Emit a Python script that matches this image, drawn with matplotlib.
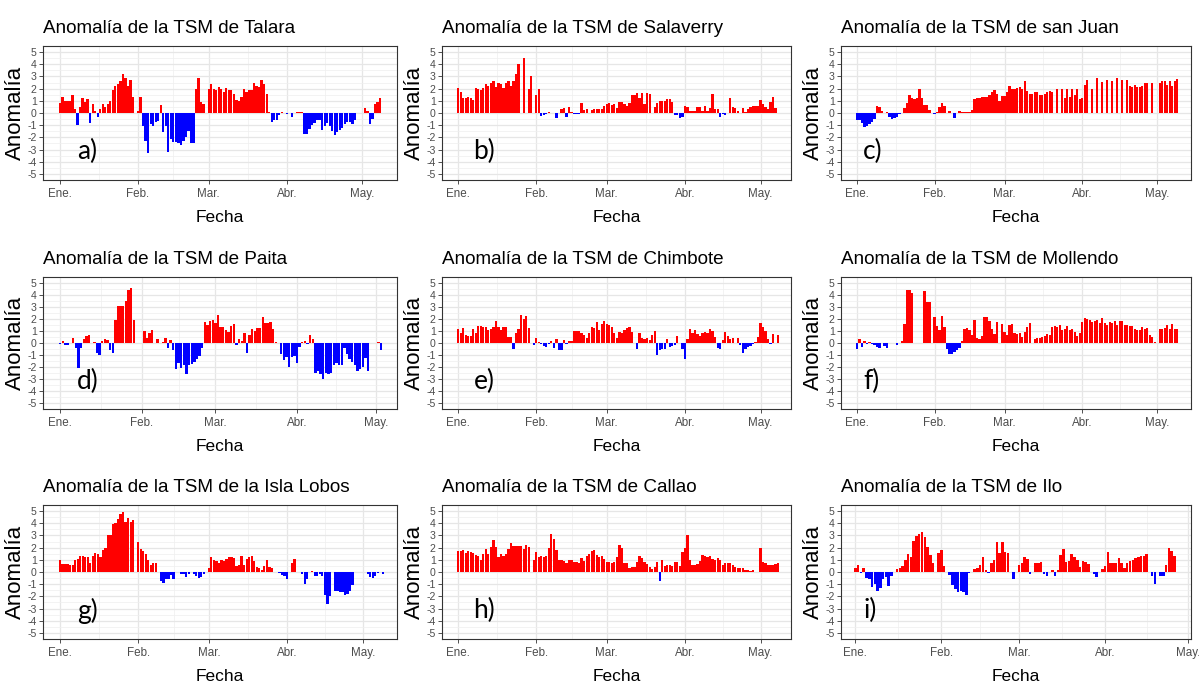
import numpy as np
import matplotlib
matplotlib.use("Agg")
import matplotlib.pyplot as plt
from matplotlib.ticker import MultipleLocator, FixedLocator
from matplotlib import font_manager

nan = float("nan")

# ---------------- data (daily anomalies, day 0 = 1 Jan) ----------------
talara = [0.8, 1.35, 1.0, 1.0, 1.0, 1.5, 0.3, -1.0, 0.5, 1.25, 0.9, 1.15, -0.85, 0.7, 0.2, -0.3,
          0.3, 0.75, 0.5, 0.75, 1.0, 1.85, 2.25, 2.4, 2.65, 3.2, 2.9, 2.25, 2.7, 1.35, nan, 0.2, 1.3,
          -1.1, -2.3, -3.3, -0.9, -1.05, -0.75, -0.65, 0.65,
          -1.6, -1.05, -3.2, -2.15, -2.4, -2.4, -2.5, -2.6, -2.3, -1.95, -1.5, -2.5, -2.5,
          2.0, 2.9, 0.9, 0.7, nan,
          2.0, 2.4, 2.0, 1.85, 2.15, 2.0, 1.7, 2.05, 1.9, 1.85, 1.6, 1.05, 1.0, 1.3, 2.0, 1.7, 1.85,
          1.9, 2.45, 2.25, 2.15, 2.7, 2.4, 1.55, 0.05, -0.7, -0.55, -0.55, -0.2,
          0.1, nan, -0.1, nan, -0.3, nan, 0.05, 0.1, 0.1,
          -1.7, -1.7, -1.3, -1.0, -0.8, -0.6, -0.55, -1.4, -1.05, -0.8, -1.05, -1.5, -1.8, -1.6, -1.4,
          -1.2, -0.9, -0.7, -0.75, -0.9, -0.55, nan, nan, nan,
          0.4, 0.2, -0.9, -0.5, 0.7, 0.9, 1.25]

salaverry = [2.05, 1.7, 1.2, 1.2, 1.3, 1.2, 1.1, 2.05, 2.0, 1.85, 2.05, 2.35, 2.25, 2.45, 2.6, 2.1,
             2.5, 2.4, 2.05, 2.5, 2.6, 2.25, 2.65, 3.2, 4.05,
             nan, 4.5, nan, 2.0, 3.0, nan, 1.5, 2.0,
             -0.25, -0.2, -0.1, 0.05, nan, nan, -0.45, nan,
             0.35, 0.4, -0.35, 0.5, 0.1, -0.05, -0.1, -0.05,
             0.8, 0.25, 0.3, nan, 0.25, 0.3, 0.35, 0.35, 0.35, 0.55,
             0.75, 0.8, 0.65, 0.75, 0.45, 0.9, 0.9, 0.7, 0.55, 0.85,
             1.45, 1.5, 1.65, 1.2, 1.65, 0.75, 1.65, 1.6, nan, 0.5,
             0.8, 1.0, 1.0, 1.0, 1.15, 1.15, 0.9, -0.2, -0.2, -0.45,
             -0.3, 0.55, 0.5, 0.15, 0.15, 0.15, 0.5, 0.5, 0.2, 0.6,
             0.2, 0.45, 1.55, 0.3, 0.3, -0.3, -0.1, -0.15, nan, 1.2,
             0.5, 0.45, 0.2, nan, 0.4, 0.05, 0.3, 0.5, 0.55, 0.55,
             0.6, 1.1, 0.75, 0.5, 0.3, 0.9, 1.35, 0.45]

san_juan = [-0.55, -0.6, -0.85, -1.15, -1.05, -0.9, -0.7, -0.5, 0.6, 0.5, 0.2,
            nan, 0.05, -0.3, -0.5, -0.45, -0.3, -0.1, nan,
            0.4, 0.8, 1.5, 1.25, 1.15, 1.2, 1.95, 1.25, 0.65, 0.65, 0.25,
            nan, -0.1, 0.1, 0.5, 0.8, 0.55, nan, 0.2, nan, -0.4, nan, 0.2, 0.1, 0.05, 0.05, 0.05, 0.25,
            1.15, 1.2, 1.25, 1.3, 1.3, 1.35, 1.45, 1.7, 1.9, 1.55, 1.0, 1.4, 1.4,
            1.75, 2.2, 2.0, 1.95, 2.05, 2.15, 2.0, 2.65, 1.8, 1.55, 1.6, 1.75, 1.75, 1.45, 1.5, 1.6,
            1.7, 1.8, 1.75,
            nan, 2.0, nan, 1.95, 1.25, 1.95, 1.3, 1.95, 1.45, 1.95, 1.15, 1.25,
            2.3, 2.7, nan, 2.0, nan, 2.9, nan, 2.55, nan, 2.7, nan, 2.6, nan, 2.9, nan, 2.7, nan, 2.7,
            2.2, 2.1, 2.3, 2.15, 2.15, 2.2, 2.45, 2.5,
            nan, 2.45, nan, nan,
            2.5, 2.65, 2.65, 2.3, 2.65, 2.2, 2.65, 2.75]

paita = [-0.1, 0.15, -0.15, -0.15, nan, 0.4, -0.4, -2.1, -0.45, 0.3, 0.55, 0.7, nan, 0.05, -0.8,
         -1.0, 0.15, 0.35, 0.25, -0.6, -0.8,
         1.9, 3.05, 3.1, 3.1, 3.5, 4.4, 4.6, 1.9,
         nan, nan, nan, 1.0, 0.4, 0.85, 1.1, nan, 0.35, nan, 0.1, 0.45, -0.4, 0.25,
         -0.6, -2.2, -1.7, -2.1, -1.8, -2.55, -1.85, -1.75, -1.6, -1.35, -1.05, -0.4,
         1.75, 1.5, 1.85, 1.95, 1.7, 2.3, 1.3, 1.35, 1.1, 0.9, 1.4, 1.55,
         -0.2, 0.35, 0.2, 0.85, -0.85, 0.65, 1.15, 1.0, 1.25, 1.25, 2.2, 1.7, 1.7, 1.75, 1.2, 0.05,
         nan,
         -0.95, -1.4, -1.2, -2.0, -1.2, -1.05, -1.65, -0.3,
         0.1, 0.15, -0.1, 0.65, 0.35,
         -2.5, -2.3, -2.6, -3.0, -2.5, -2.6, -2.5, -1.8, -1.7, -1.8, -1.8, -0.4, -0.9, -1.3, -1.6,
         -1.8, -2.3, -2.2, -2.0, -1.25, -2.35,
         nan, nan, nan, 0.05, -0.6]

chimbote = [1.15, 0.8, 1.25, 0.7, 0.55, 0.6, 1.2, 0.8, 1.4, 1.45, 1.3, 1.3, 1.05, 1.2,
            1.3, 1.8, 1.3, 1.1, 1.3, 1.3, 0.5, 0.5, -0.5, 0.8, 1.2, 2.3, 2.0, 2.25, 1.25,
            nan, -0.2, 0.4, 0.05, -0.1, -0.25, -0.35, -0.1, 0.15, -0.4,
            0.3, -0.6, -0.55, 0.25, -0.1, 0.2, 0.2, 1.0, 1.0, 1.0, 0.85, 0.7,
            0.4, 0.8, 1.3, 1.25, 1.75, 1.1, 1.6, 1.8, 1.6, 1.5, 1.3, 0.85,
            0.4, 0.9, 0.85, 1.05, 1.25, 1.35, 0.9, nan, -0.5, 0.85, 0.4, 0.3, 0.45, 0.25, 0.65, 1.0,
            -1.0, -0.6, -0.5, -0.5, 0.35, -0.3, -0.25, -0.2, 0.55, nan, -0.5, -1.3, 0.3, 1.2, 0.8,
            1.05, 0.75, 0.6, 0.85, 0.9, 0.85, 1.15, 1.0, 0.5, -0.4, -0.5,
            0.25, 0.95, 0.6, 0.35, 0.4, nan, 0.45, -0.2, -0.8, -0.5, -0.35, -0.25, -0.1, 0.1, 0.5,
            1.7, 1.3, 1.0, 0.35, -0.1, 0.75, nan, 0.7]

mollendo = [-0.5, 0.3, -0.3, 0.15, -0.1, 0.05, -0.1, -0.15, -0.35, -0.4,
            nan, -0.25, -0.4, nan, nan, nan, -0.15, nan,
            0.15, 1.55, 4.4, 4.4, 4.2, nan, nan, nan, nan, 4.3, 3.4, 3.45, nan,
            2.15, 1.45, 1.1, 2.25, 1.35,
            -0.5, -0.9, -0.9, -0.75, -0.6, -0.45,
            0.15, 1.2, 1.25, 1.05, 0.65, 1.9, 0.45, 0.3, 0.6, 2.2, 2.15, 1.85, 1.2, 0.75,
            1.75, nan,
            1.6, 0.9, 0.7, 1.5, 1.55, 0.8, 0.75, 0.85, 0.5, 0.9, 1.3, 1.7, nan,
            0.35, 0.4, 0.45, 0.5, 0.55, 0.75, 0.7,
            1.35, 1.45, 1.35, 1.5, 1.05, 1.2, 1.45, 1.1, 1.2, 0.95, 0.55, 0.8,
            1.75, 2.1, 2.0, 1.9, 1.75, 1.85, 1.9, 1.65, 2.05, 1.7, 1.5, 1.75, 1.65, 1.85, 1.5,
            1.8, 1.8, 1.5, 1.5, 1.4, 1.45, 1.15, 1.1, 1.1, 1.3, 1.15, 1.25, 0.65, 0.5, 0.1,
            nan,
            1.2, 1.2, 1.25, 1.5, 1.2, 1.55, 1.2, 1.15]

isla_lobos = [0.95, 0.65, 0.65, 0.65, 0.6, 0.55, 0.95, 1.05, 1.35, 1.35, 1.25, 1.25, 0.75, 1.3,
              1.6, 1.5, 1.25, 1.8, 2.0, 3.0, 3.0, 3.95, 4.05, 4.35, 4.75, 4.9, 4.1, 4.4, 4.1, 4.3,
              nan,
              2.5, 1.9, 1.75, 1.45, 0.95, 0.55, 0.7, 0.7, nan,
              -0.7, -0.9, -0.55, -0.55, -0.25, -0.6, nan, nan,
              -0.15, -0.15, -0.45, -0.2, nan,
              -0.2, -0.3, -0.5, -0.45, -0.15, nan,
              0.3, 1.2, 1.0, 0.9, 0.75, 1.0, 0.9, 1.1, 1.25, 1.25, 1.15, 0.5, 0.55, 1.3, 0.55, 1.05,
              1.25, 1.3, 0.9, 0.4, 0.3, 0.15, 0.5, 0.95, 0.45, 0.35,
              nan, nan, -0.1, -0.25, -0.35, -0.55, nan, 0.75, 1.05, nan, nan,
              -0.2, -0.95, -0.55, nan,
              0.05, -0.3, -0.3, -0.15, -0.3, -1.85, -2.6, -2.0, nan, -1.55, -1.6, -1.65, -1.65,
              -1.85, -1.8, -1.55, -1.05,
              nan, nan, nan, nan, nan,
              -0.15, -0.45, -0.5, -0.3, -0.1, nan, -0.15]

callao = [1.75, 1.7, 1.8, 1.55, 1.7, 1.65, 1.6, 1.4, 1.35, 1.0, 1.5, 1.9, 1.45, 2.05, 2.6, 2.05,
          1.2, 1.5, 1.35, 1.45, 1.9, 2.35, 2.1, 2.1, 2.1, 2.1, 1.85, 2.2, 2.05, nan,
          1.0, 1.65, 1.2, 1.3, 1.25, 1.3, 1.95, 3.15, 2.7, 1.8, 0.95, 1.0, 0.9, 0.75,
          0.95, 1.0, 0.85, 0.85, 0.75, 1.15, 0.9, 1.3, 1.45, 1.7, 1.8, 1.4, 1.2, 1.35,
          1.05, 0.8, 0.8, 0.75, 0.85, 1.2, 2.25, 1.95, 0.75, 0.75, 0.35, 0.4, 0.4, 0.8,
          1.3, 1.15, 0.8, 0.65, 0.45, 0.25, 0.45, 0.85, -0.75, 0.95, 0.5, 0.55, 0.6, 0.5,
          0.85, 0.8, 0.5, 1.65, 2.0, 3.0, 0.95, 0.55, 0.6, 0.65, 0.9, 1.4, 1.35, 1.2, 1.35,
          1.05, 0.95, 1.15, 0.95, 0.55, 0.75, 0.7, 0.75, 0.6, 0.4, 0.3, 0.35, 0.3, 0.2, 0.2,
          0.05, 0.15, nan, nan, 1.95, 0.8, 0.75, 0.6, 0.55, 0.55, 0.65, 0.75]

ilo = [0.3, 0.55, -0.1, 0.35,
       -0.5, -0.55, -1.25, -0.95, -1.55, -1.35, -0.6,
       -0.4, -1.15, -0.3, nan, 0.25, 0.35, 0.5, 0.95, 1.45,
       1.2, 2.55, 2.95, 3.1, 3.25, 2.85, 2.05, 1.4,
       0.75, nan, 1.6, 1.8, 0.5, nan, -0.25, -1.1, -1.4, -1.65, -1.6,
       -1.65, -1.85, -0.1, nan, 0.25, 0.3,
       0.55, 1.2, 0.2, -0.05, 0.75, 0.95, 2.45, 1.55, 2.5,
       1.65, 1.6, nan, -0.6, nan, 0.6, 0.75, 1.2,
       1.05, -0.15, nan, 0.7, 0.75,
       0.85, -0.15, -0.3, nan, 0.2,
       -0.35, 0.15, 1.4, 1.9, 0.8, 0.9, 1.5, 1.25, 0.95,
       0.45, 0.9, 0.85, 0.65, nan, -0.15, -0.4, nan, 0.25, 0.5, 1.65, 0.75,
       0.75,
       0.75, 1.15, 0.75, 0.35, 0.75, 0.9, 1.0, 1.15, 1.25, 1.3, 1.3, 1.45, nan, -0.3, -1.0,
       nan, -0.3, -0.3,
       0.55, 2.0, 1.75, 1.35]

stations = ["Talara", "Salaverry", "san Juan", "Paita", "Chimbote", "Mollendo",
            "la Isla Lobos", "Callao", "Ilo"]
series = [talara, salaverry, san_juan, paita, chimbote, mollendo, isla_lobos, callao, ilo]
panel_tags = ["a)", "b)", "c)", "d)", "e)", "f)", "g)", "h)", "i)"]

month_days = [0, 31, 59, 90, 120]
month_labels = ["Ene.", "Feb.", "Mar.", "Abr.", "May."]
minor_days = [-15.5, 15.5, 45, 74.5, 105, 135.5]
y_ticks = list(range(-5, 6))

# ---------------- layout ----------------
W, H = 1199, 684
col_px = [(43, 397), (442, 791), (841, 1191)]
row_px = [(46, 180), (277, 409), (505, 639)]
xlims = [(-6.7, 133.7), (-6.4, 132.1), (-6.4, 133.5),
         (-6.5, 128.0), (-6.4, 132.1), (-6.4, 133.5),
         (-6.75, 133.6), (-6.4, 132.1), (-5.2, 121.0)]
tag_dx = [0.096, 0.09, 0.063] * 3

avail = {f.name for f in font_manager.fontManager.ttflist}
narrow = "Liberation Sans Narrow" if "Liberation Sans Narrow" in avail else "Liberation Sans"
regular = "Liberation Sans"
tagfont = "Lato" if "Lato" in avail else "DejaVu Sans"
title_size = 17 if narrow != regular else 13.6
tick_size = 9.6 if narrow != regular else 8.4
xlab_size = 14 if narrow != regular else 12.5

plt.rcParams["axes.unicode_minus"] = False

fig = plt.figure(figsize=(W / 100, H / 100), dpi=100)
fig.patch.set_facecolor("white")

for i, (name, vals) in enumerate(zip(stations, series)):
    r, c = divmod(i, 3)
    x0, x1 = col_px[c]
    y0, y1 = row_px[r]
    ax = fig.add_axes([x0 / W, 1 - y1 / H, (x1 - x0) / W, (y1 - y0) / H])
    v = np.array(vals, dtype=float)
    days = np.arange(len(v))
    ok = ~np.isnan(v)
    cols = np.where(v[ok] >= 0, "#FF0000", "#0000FF")
    ax.bar(days[ok], v[ok], width=0.9, color=cols, linewidth=0, zorder=3)

    ax.set_xticks(month_days)
    ax.set_xticklabels(month_labels)
    ax.xaxis.set_minor_locator(FixedLocator(minor_days))
    ax.set_yticks(y_ticks)
    ax.set_yticklabels([str(t) for t in y_ticks])
    ax.yaxis.set_minor_locator(MultipleLocator(0.5))
    ax.set_xlim(*xlims[i])
    ax.set_ylim(-5.5, 5.5)
    ax.set_axisbelow(True)
    ax.grid(which="major", color="#E6E6E6", linewidth=0.9)
    ax.grid(which="minor", color="#EFEFEF", linewidth=0.5)
    for sp in ax.spines.values():
        sp.set_color("#333333")
        sp.set_linewidth(0.8)
    ax.tick_params(which="major", length=3, width=0.6, color="#333333",
                   labelcolor="#4D4D4D", labelsize=tick_size)
    ax.tick_params(axis="x", pad=3)
    ax.tick_params(axis="y", pad=1.5, labelsize=7.6)
    ax.tick_params(which="minor", length=0)
    for lab in ax.get_xticklabels() + ax.get_yticklabels():
        lab.set_fontfamily(narrow)

    # title
    fig.text(x0 / W, 1 - (y0 - 13) / H, "Anomalía de la TSM de " + name,
             fontsize=title_size, fontfamily=narrow, ha="left", va="baseline", color="black")
    # x label
    fig.text((x0 + x1) / 2 / W, 1 - (y1 + 42) / H, "Fecha",
             fontsize=xlab_size, fontfamily=narrow, ha="center", va="baseline", color="black")
    # y label
    fig.text((x0 - 28) / W, 1 - (y0 + y1) / 2 / H, "Anomalía", rotation=90,
             fontsize=16, fontfamily=regular, ha="center", va="center", color="black")
    # panel tag
    ax.text(tag_dx[i], 0.21, panel_tags[i], transform=ax.transAxes, fontsize=19,
            fontfamily=tagfont, ha="left", va="center", color="black", zorder=5)

fig.savefig("out.png", dpi=100, facecolor="white")
